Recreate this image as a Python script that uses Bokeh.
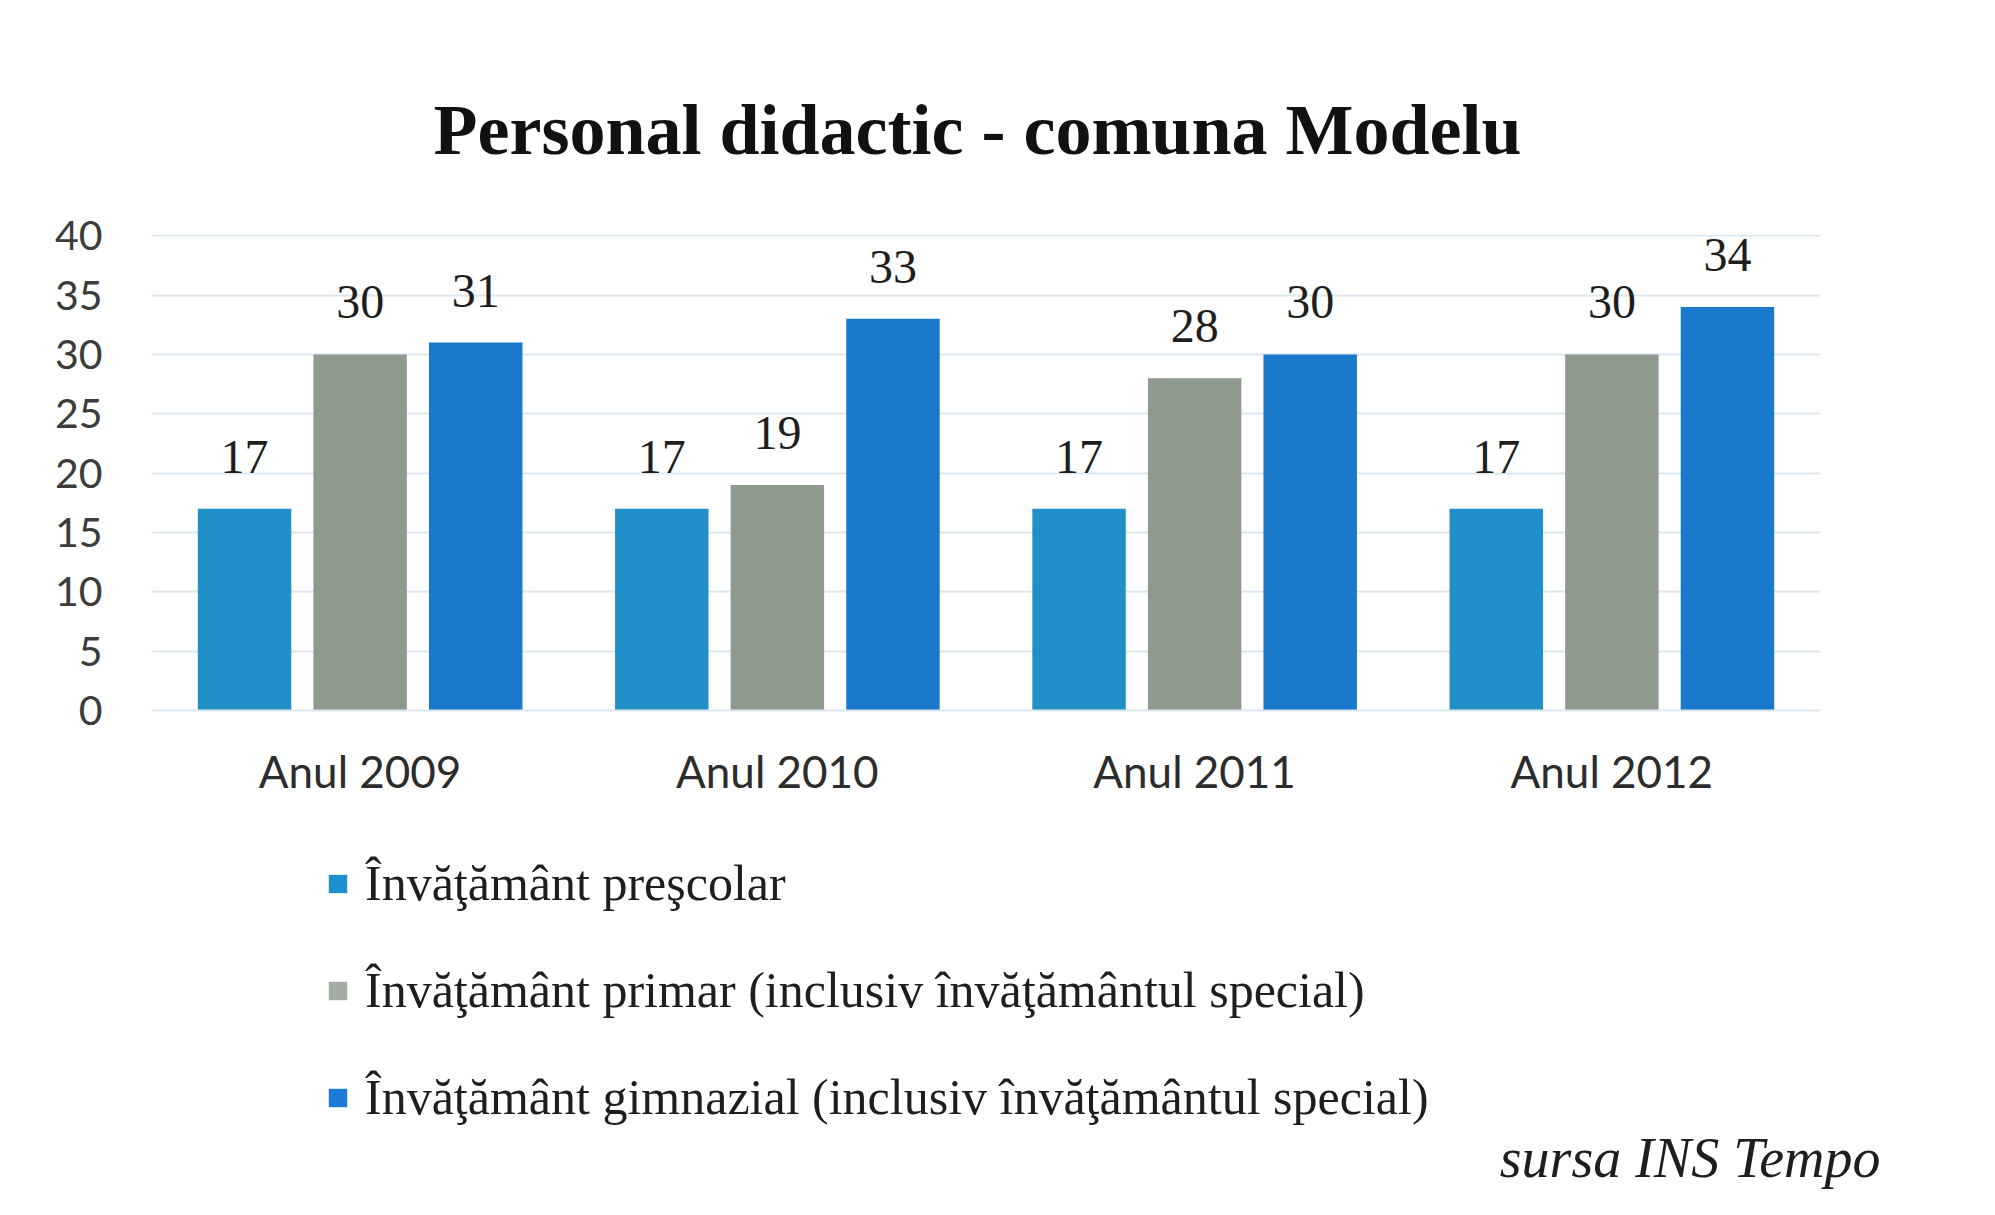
from bokeh.plotting import figure
from bokeh.models import (FactorRange, ColumnDataSource, LabelSet, Legend,
                          LegendItem, FixedTicker, Range1d)
from bokeh.layouts import column
from bokeh.transform import dodge
from bokeh.embed import file_html
from bokeh.resources import INLINE

# ---- data ----
title_text = "Personal didactic - comuna Modelu"
source_text = "sursa INS Tempo"
years = ["Anul 2009", "Anul 2010", "Anul 2011", "Anul 2012"]
series_names = [
    "Învăţământ preşcolar",
    "Învăţământ primar (inclusiv învăţământul special)",
    "Învăţământ gimnazial (inclusiv învăţământul special)",
]
prescolar = [17, 17, 17, 17]
primar = [30, 19, 28, 30]
gimnazial = [31, 33, 30, 34]
y_ticks = [0, 5, 10, 15, 20, 25, 30, 35, 40]

bar_colors = ["#2190C8", "#8F9A8E", "#1B79CC"]
legend_colors = ["#1E90D0", "#A3ABA3", "#1B7BD6"]
grid_color = "#DCE7EE"

W, H = 1979, 1199
H1 = 830                                # height of the chart part
FL, FR, FT, FB = 151, 1820, 234, 710    # frame edges in px

src = ColumnDataSource(dict(
    year=years, prescolar=prescolar, primar=primar, gimnazial=gimnazial,
    prescolar_t=[str(v) for v in prescolar],
    primar_t=[str(v) for v in primar],
    gimnazial_t=[str(v) for v in gimnazial],
))

p = figure(x_range=FactorRange(*years), y_range=Range1d(0, 40.1),
           width=W, height=H1, output_backend="svg", toolbar_location=None,
           min_border_left=FL, min_border_right=W - FR,
           min_border_top=FT, min_border_bottom=H1 - FB)
p.outline_line_color = None
p.background_fill_color = "white"
p.border_fill_color = "white"

p.title.text = title_text
p.title.align = "left"
p.title.offset = 282
p.title.standoff = 130
p.title.text_font = "Liberation Serif"
p.title.text_font_style = "bold"
p.title.text_font_size = "72px"
p.title.text_color = "#111111"

p.yaxis.ticker = FixedTicker(ticks=y_ticks)
p.yaxis.axis_line_color = None
p.yaxis.major_tick_line_color = None
p.yaxis.minor_tick_line_color = None
p.yaxis.major_label_standoff = 43
p.yaxis.major_label_text_font = "Lato"
p.yaxis.major_label_text_font_size = "41px"
p.yaxis.major_label_text_color = "#3C3C3C"

p.xaxis.axis_line_color = grid_color
p.xaxis.axis_line_width = 2
p.xaxis.major_tick_line_color = None
p.xaxis.minor_tick_line_color = None
p.xaxis.major_label_standoff = 28
p.xaxis.major_label_text_font = "Lato"
p.xaxis.major_label_text_font_size = "44px"
p.xaxis.major_label_text_color = "#2C2C2C"

p.xgrid.visible = False
p.ygrid.grid_line_color = grid_color
p.ygrid.grid_line_width = 2

offs = [-0.277, 0.0, 0.277]
fields = ["prescolar", "primar", "gimnazial"]
for off, f, c in zip(offs, fields, bar_colors):
    p.vbar(x=dodge("year", off, range=p.x_range), top=f, width=0.224,
           source=src, fill_color=c, line_color=None)
    p.add_layout(LabelSet(x=dodge("year", off, range=p.x_range), y=f, text=f + "_t",
                          source=src, y_offset=36, text_align="center",
                          text_baseline="alphabetic", text_font="Liberation Serif",
                          text_font_size="48px", text_color="#1E1E1E"))

# ---- lower part: legend + source note ----
H2 = H - H1
QB = 73   # room below the legend area for the source note
q = figure(width=W, height=H2, x_range=Range1d(0, 1), y_range=Range1d(0, 1),
           output_backend="svg", toolbar_location=None,
           x_axis_type=None, y_axis_type=None, title_location="below",
           min_border_left=FL, min_border_right=W - FR,
           min_border_top=0, min_border_bottom=QB)
q.outline_line_color = None
q.grid.visible = False
q.background_fill_color = "white"
q.border_fill_color = "white"

q.title.text = source_text
q.title.align = "right"
q.title.offset = -60
q.title.standoff = 0
q.title.vertical_align = "top"
q.title.text_font = "Liberation Serif"
q.title.text_font_style = "italic"
q.title.text_font_size = "56px"
q.title.text_color = "#1E1E1E"

# zero-size proxies only carry the legend colour chips
proxies = [q.vbar(x=[5], top=[0], width=0.0, fill_color=c, line_color=None)
           for c in legend_colors]
items = [LegendItem(label=n, renderers=[pr]) for n, pr in zip(series_names, proxies)]
legend = Legend(items=items, location=(175, 0), orientation="vertical",
                glyph_width=23, glyph_height=23, label_height=56, spacing=49,
                label_standoff=16, padding=0, margin=0,
                label_text_font="Liberation Serif", label_text_font_size="50px",
                label_text_color="#1E1E1E", border_line_color=None,
                background_fill_alpha=0)
q.add_layout(legend)

layout = column(p, q, spacing=0)
open("out.html", "w").write(file_html(layout, INLINE))
